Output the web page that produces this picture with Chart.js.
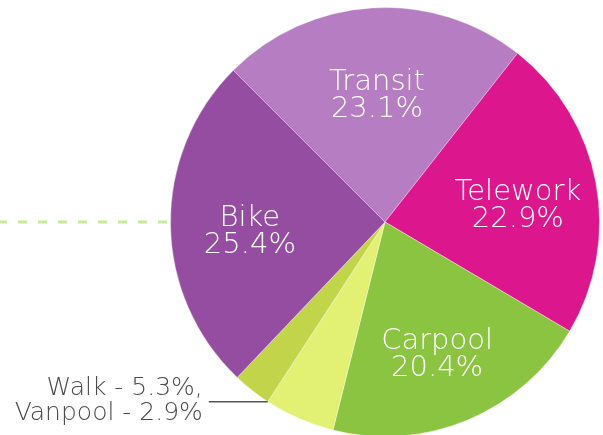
<!DOCTYPE html>
<html>
<head>
<meta charset="utf-8">
<script src="https://cdn.jsdelivr.net/npm/chart.js@4"></script>
<style>
  html, body { margin: 0; padding: 0; background: #fff; overflow: hidden; }
  #wrap { position: relative; width: 603px; height: 445px; }
</style>
</head>
<body>
<div id="wrap"><canvas id="chart" width="603" height="445"></canvas></div>
<script>
const modes = ["Transit", "Telework", "Carpool", "Walk", "Vanpool", "Bike"];
const shares = [23.1, 22.9, 20.4, 5.3, 2.9, 25.4];
const colors = ["#b77dc2", "#dc168c", "#8ac441", "#e2f074", "#c2d54a", "#944da0"];
// small slices get an outside note instead of an inner label
const insideLabels = ["Transit", "Telework", "Carpool", "Bike"];
const outsideNote = ["Walk", "Vanpool"];

const FONT = '"DejaVu Sans", sans-serif';

const fmt = v => v.toFixed(1) + "%";

const dashedGuide = {
  id: "dashedGuide",
  beforeDatasetsDraw(chart) {
    const arc = chart.getDatasetMeta(0).data[0];
    const { x, y, outerRadius } = arc.getProps(["x", "y", "outerRadius"], true);
    const ctx = chart.ctx;
    ctx.save();
    ctx.strokeStyle = "#c5ec98";
    ctx.lineWidth = 3;
    ctx.setLineDash([9, 11]);
    ctx.beginPath();
    ctx.moveTo(-2, y);
    ctx.lineTo(x - outerRadius - 2, y);
    ctx.stroke();
    ctx.restore();
  },
};

const sliceLabels = {
  id: "sliceLabels",
  afterDatasetsDraw(chart) {
    const ctx = chart.ctx;
    const meta = chart.getDatasetMeta(0);
    ctx.save();
    ctx.fillStyle = "#fff";
    ctx.textAlign = "center";
    ctx.textBaseline = "middle";
    ctx.font = "200 29px " + FONT;
    meta.data.forEach((arc, i) => {
      if (insideLabels.indexOf(modes[i]) < 0) return;
      const p = arc.getProps(["x", "y", "startAngle", "endAngle", "outerRadius"], true);
      const mid = (p.startAngle + p.endAngle) / 2;
      const r = p.outerRadius * 0.63;
      const cx = p.x + Math.cos(mid) * r;
      const cy = p.y + Math.sin(mid) * r + 8;
      ctx.fillText(modes[i], cx, cy - 13);
      ctx.fillText(fmt(shares[i]), cx, cy + 14);
    });

    // leader note for the two thin slices
    const walk = meta.data[modes.indexOf(outsideNote[0])];
    const p = walk.getProps(["x", "y", "endAngle", "outerRadius"], true);
    const ex = p.x + Math.cos(p.endAngle) * p.outerRadius;
    const ey = p.y + Math.sin(p.endAngle) * p.outerRadius;
    const sx = ex - 59;
    ctx.strokeStyle = "#555";
    ctx.lineWidth = 1.5;
    ctx.beginPath();
    ctx.moveTo(sx, ey);
    ctx.lineTo(ex, ey);
    ctx.stroke();
    ctx.fillStyle = "#4a4a4a";
    ctx.textAlign = "right";
    ctx.textBaseline = "alphabetic";
    ctx.font = "200 25px " + FONT;
    const notes = outsideNote.map(m => m + " - " + fmt(shares[modes.indexOf(m)]));
    ctx.fillText(notes[0] + ",", sx - 6, ey - 7);
    ctx.fillText(notes[1], sx - 6, ey + 18);
    ctx.restore();
  },
};

new Chart(document.getElementById("chart"), {
  type: "pie",
  data: {
    labels: modes,
    datasets: [
      {
        data: shares,
        backgroundColor: colors,
        borderColor: "rgba(255,255,255,0.35)",
        borderWidth: 1,
      },
    ],
  },
  options: {
    responsive: false,
    animation: false,
    devicePixelRatio: 1,
    rotation: -45,
    layout: { padding: { left: 170, right: 3, top: 7, bottom: 8 } },
    plugins: {
      legend: { display: false },
      tooltip: { enabled: false },
    },
  },
  plugins: [dashedGuide, sliceLabels],
});
</script>
</body>
</html>
